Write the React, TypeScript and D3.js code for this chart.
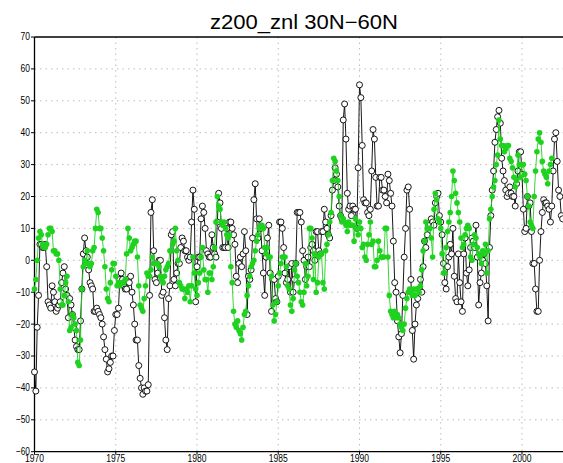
import React from "react";
import * as d3 from "d3";

const chartTitle = "z200_znl 30N\u221260N";
const startYear = 1970;

// Monthly values from Jan 1970 (open black circles)
const blackValues: number[] = [
  -35, -41, -21, -11, 5, 5, 4, 4, 5, -2, -13, -14,
  -15, -8, -10, -13, -16, -15, -14, -13, -7, -4, -2, -9,
  -11, -18, -12, -14, -17, -21, -25, -27, -28, -28, -19, -9,
  2, 7, 3, 1, -3, -7, -8, -9, -16, -16, -15, -16,
  -17, -18, -20, -24, -28, -31, -35, -34, -32, -30, -30, -22,
  -17, -17, -15, -6, -4, -6, -8, -9, -9, -6, -7, -5,
  -10, -14, -20, -25, -25, -33, -37, -40, -42, -40, -41, -41,
  -39, -11, 15, 19, 3, -6, -7, -4, 0, 0, -11, -10,
  -18, -25, -28, -12, -8, 8, 9, -6, -8, -4, -1, -1,
  4, 7, 6, 3, 3, 1, 0, 1, 12, 22, 16, -13,
  -2, 1, 1, 13, 17, 15, 10, 3, 2, 1, 1, 8,
  4, 2, 1, 12, 21, 18, 10, 4, 4, 4, 10, 4,
  12, 12, 10, 8, 5, -5, -7, -1, 1, -2, 2, 9,
  3, -17, -5, -6, -3, 7, 19, 24, 13, 7, 13, 10,
  3, -4, -11, 1, 7, 11, -4, -16, -6, -6, -12, -13,
  -5, 12, 12, 10, 4, -4, -7, -6, -2, -10, -1, -10,
  -6, -1, 15, 15, 15, 12, 3, 0, -6, -2, 1, -2,
  4, 5, 3, 0, 9, 9, 3, 2, 9, 9, 16, 12,
  10, 8, 7, 14, 22, 25, 29, 27, 23, 17, 14, 13,
  44, 49, 38, 21, 16, 17, 14, 17, 16, 16, 10, 29,
  55, 51, 36, 19, 18, 18, 15, 14, 16, 28, 41, 38,
  26, 17, 17, 26, 26, 22, 22, 20, 18, 27, 25, 21,
  17, 6, -7, -10, -19, -24, -29, -23, -11, 1, 10, 22,
  23, 16, -6, -22, -31, -20, -14, -12, -9, -6, -10, -2,
  6, 4, 8, 11, 11, 13, 12, 11, 18, 20, 21, 14,
  12, 8, -1, -7, -9, -2, 1, 5, 2, 10, -5, -12,
  -13, 2, -7, -13, -16, 2, 7, -4, -8, -3, 4, 7,
  6, 4, 11, 1, -14, -7, -4, 0, 2, -1, -8, -19,
  4, 14, 22, 28, 37, 41, 45, 47, 43, 32, 28, 25,
  22, 20, 21, 23, 21, 20, 20, 17, 24, 28, 34, 34,
  27, 16, 9, 10, 20, 17, 18, 9, -1, -1, -9, -16,
  -16, 0, 9, 15, 19, 18, 18, 17, 16, 12, 17, 28,
  38, 40, 31, 22, 20, 14, 13,
];

// Monthly values from Jan 1970 (filled green circles)
const greenValues: number[] = [
  -9, -6, 0, 7, 9, 8, 5, 4, 4, 5, 8, 10,
  10, 9, 3, 3, 2, 2, 0, -9, -14, -14, -11, -7,
  -5, -13, -22, -21, -17, -18, -20, -22, -32, -33, -25, -9,
  -2, 0, -1, 3, -1, -2, -1, 3, 4, 10, 16, 15,
  10, 10, 7, 3, -2, -9, -12, -13, -7, -3, -1, -1,
  -5, -8, -7, -8, -7, -7, -7, -6, 2, 10, 7, 3,
  4, 5, 6, 6, 1, -8, -14, -15, -16, -12, -8, -4,
  -5, -5, -3, 1, -1, -1, -1, -1, -2, -5, -6, -7,
  -5, -3, -2, -1, 3, 3, 5, 6, 10, 3, 0, -7,
  -8, -9, -9, -12, -9, -10, -8, -13, -8, 1, -4, -9,
  -11, -7, -4, 1, 4, -3, -6, -6, -10, -4, -4, -6,
  -2, 4, 12, 20, 17, 16, 12, 11, 12, 10, 8, 7,
  8, -2, -7, -16, -20, -21, -19, -22, -23, -25, -21, -17,
  -16, -11, -8, -5, -2, -1, 0, 3, 6, 8, 10, 11,
  11, 10, 4, 2, 4, 1, 1, -5, -14, -19, -17, -13,
  -8, -4, -1, 1, 1, 1, -2, -8, -9, -14, -16, -12,
  -3, -1, -5, -7, -10, -13, -14, -10, -1, -8, -5, 10,
  10, 7, -6, 2, -10, -7, 1, 2, 2, -7, -9, 3,
  5, 8, 12, 15, 25, 32, 31, 28, 25, 20, 14, 12,
  13, 12, 11, 9, 12, 11, 11, 11, 6, 13, 10, 8,
  12, 10, 4, 5, 1, 0, 5, 8, 12, 5, 6, -2,
  -2, 0, 6, 3, 1, 1, 1, 10, 10, 1, -11, -16,
  -17, -18, -16, -18, -17, -18, -20, -21, -22, -20, -15, -12,
  -10, -9, -10, -11, -9, -11, -9, -9, -10, -8, -3, 3,
  6, 12, 10, 10, 10, 7, 1, 16, 21, 19, 13, 12,
  10, 2, -4, -4, 4, 9, 12, 15, 20, 28, 25, 21,
  18, 15, 12, 7, 4, 5, 8, 10, 11, 10, 1, 0,
  5, 8, 7, 4, 2, 1, -1, 3, 2, 5, -4, 3,
  13, 16, 20, 23, 25, 30, 33, 44, 38, 36, 36, 34,
  35, 36, 36, 32, 31, 29, 26, 23, 25, 33, 30, 26,
  30, 30, 27, 25, 20, 17, 12, 11, 10, 20, 28, 34,
  38, 40, 37, 31, 28, 27, 26, 24, 28, 30, 32,
];

const yTickValues = [-60, -50, -40, -30, -20, -10, 0, 10, 20, 30, 40, 50, 60, 70];
const xTickYears = [1970, 1975, 1980, 1985, 1990, 1995, 2000];

const W = 563;
const H = 463;
const left = 34.5;
const top = 37;
const bottom = 451.7;
const right = 570.75;

const fmt = (v: number) => (v < 0 ? "\u2212" + Math.abs(v) : String(v));

export default function App() {
  const x = d3.scaleLinear().domain([1970, 2003]).range([left, right]);
  const y = d3.scaleLinear().domain([-60, 70]).range([bottom, top]);

  const line = d3
    .line<number>()
    .x((_, i) => x(startYear + i / 12))
    .y((d) => y(d));

  const gridColor = "#bdbdbd";
  const font = "Liberation Sans, Arial, Helvetica, sans-serif";
  const green = "#1fd21f";

  return (
    <svg
      width={W}
      height={H}
      style={{ position: "absolute", left: 0, top: 0, background: "#fff" }}
      xmlns="http://www.w3.org/2000/svg"
    >
      <rect x={0} y={0} width={W} height={H} fill="#fff" />
      {/* grid */}
      {yTickValues
        .filter((v) => v > -60 && v < 70)
        .map((v) => (
          <line
            key={"gy" + v}
            x1={left}
            x2={right}
            y1={y(v)}
            y2={y(v)}
            stroke={gridColor}
            strokeWidth={1}
            strokeDasharray="1.5 4"
          />
        ))}
      {xTickYears
        .filter((yr) => yr > 1970)
        .map((yr) => (
          <line
            key={"gx" + yr}
            x1={x(yr)}
            x2={x(yr)}
            y1={top}
            y2={bottom}
            stroke={gridColor}
            strokeWidth={1}
            strokeDasharray="1.5 4"
          />
        ))}
      {/* frame */}
      <line x1={left} x2={right} y1={top} y2={top} stroke="#000" strokeWidth={1.3} />
      <line x1={left} x2={right} y1={bottom} y2={bottom} stroke="#000" strokeWidth={1.3} />
      <line x1={left} x2={left} y1={top} y2={bottom} stroke="#000" strokeWidth={1.3} />
      {/* y ticks */}
      {yTickValues.map((v) => (
        <g key={"yt" + v}>
          <line x1={left - 3.5} x2={left} y1={y(v)} y2={y(v)} stroke="#000" strokeWidth={1} />
          <text
            x={left - 4.5}
            y={y(v) + 3.4}
            textAnchor="end"
            fontFamily={font}
            fontSize={10}
            textLength={fmt(v).length * 4.7}
            lengthAdjust="spacingAndGlyphs"
            fill="#000"
          >
            {fmt(v)}
          </text>
        </g>
      ))}
      {/* x ticks */}
      {xTickYears.map((yr) => (
        <g key={"xt" + yr}>
          <line x1={x(yr)} x2={x(yr)} y1={bottom} y2={bottom + 3} stroke="#000" strokeWidth={1} />
          <text
            x={x(yr)}
            y={bottom + 10.5}
            textAnchor="middle"
            fontFamily={font}
            fontSize={10}
            textLength={19}
            lengthAdjust="spacingAndGlyphs"
            fill="#000"
          >
            {yr}
          </text>
        </g>
      ))}
      {/* title */}
      <text
        x={304}
        y={29}
        textAnchor="middle"
        fontFamily={font}
        fontSize={20}
        textLength={188}
        lengthAdjust="spacingAndGlyphs"
        fill="#000"
      >
        {chartTitle}
      </text>
      {/* black series */}
      <path d={line(blackValues) || ""} fill="none" stroke="#000" strokeWidth={0.9} />
      {blackValues.map((v, i) => (
        <circle
          key={"b" + i}
          cx={x(startYear + i / 12)}
          cy={y(v)}
          r={3}
          fill="#fff"
          stroke="#000"
          strokeWidth={0.9}
        />
      ))}
      {/* green series */}
      <path d={line(greenValues) || ""} fill="none" stroke={green} strokeWidth={0.9} />
      {greenValues.map((v, i) => (
        <circle key={"g" + i} cx={x(startYear + i / 12)} cy={y(v)} r={2.8} fill={green} />
      ))}
    </svg>
  );
}
